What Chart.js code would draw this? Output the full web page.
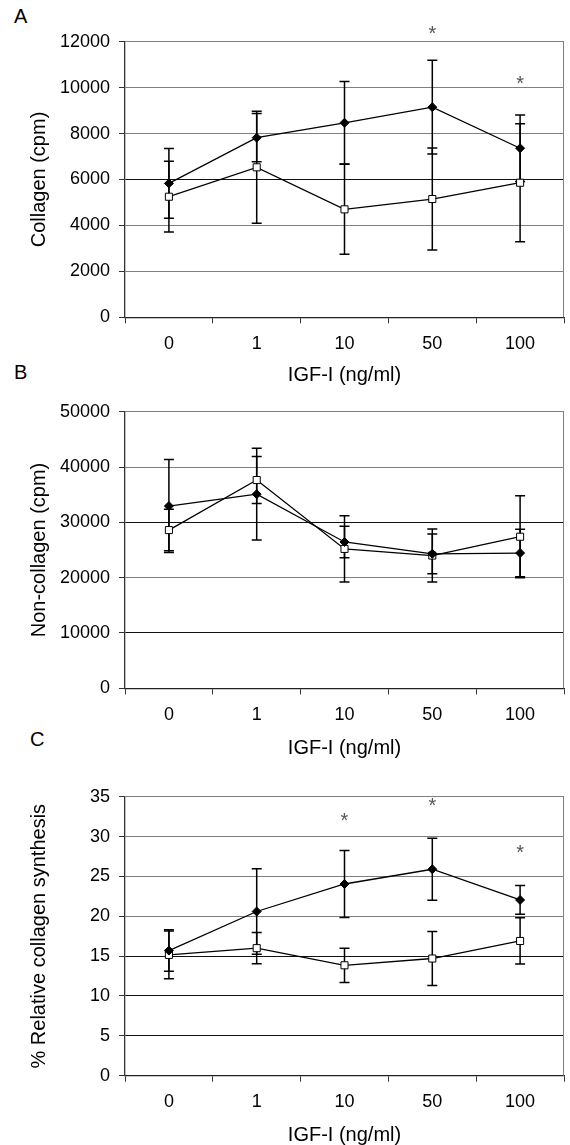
<!DOCTYPE html>
<html>
<head>
<meta charset="utf-8">
<script src="https://cdn.jsdelivr.net/npm/chart.js@4.4.1/dist/chart.umd.min.js"></script>
<style>
  body { margin: 0; background: #fff; width: 570px; height: 1145px; position: relative; overflow: hidden;
         font-family: "Liberation Sans", Arial, sans-serif; }
  canvas { position: absolute; left: 0; }
  .tag { position: absolute; font-size: 20px; line-height: 20px; color: #000; }
</style>
</head>
<body>
<div class="tag" style="left:14px; top:6px">A</div>
<div class="tag" style="left:14px; top:362px">B</div>
<div class="tag" style="left:30px; top:729px">C</div>
<canvas id="chartA" width="570" height="390" style="top:0"></canvas>
<canvas id="chartB" width="570" height="370" style="top:390px"></canvas>
<canvas id="chartC" width="570" height="390" style="top:760px"></canvas>
<script>
// IGF-I doses on the x axis
const doses = ['0', '1', '10', '50', '100'];

// A - collagen (cpm)
const collagenFilled = [5830, 7820, 8470, 9150, 7360];
const collagenFilledErr = [1520, 1050, 1800, 2040, 1450];
const collagenOpen = [5250, 6530, 4700, 5150, 5860];
const collagenOpenErr = [1540, 2440, 1960, 2220, 2570];
const collagenStars = [null, null, null, 12600, 10400];
const collagenTicks = [0, 2000, 4000, 6000, 8000, 10000, 12000];

// B - non-collagen (cpm)
const nonCollagenFilled = [32950, 35100, 26450, 24300, 24450];
const nonCollagenFilledErr = [8400, 8300, 2850, 3600, 4300];
const nonCollagenOpen = [28600, 37650, 25200, 24000, 27400];
const nonCollagenOpenErr = [3750, 4250, 6000, 4800, 7400];
const nonCollagenStars = [null, null, null, null, null];
const nonCollagenTicks = [0, 10000, 20000, 30000, 40000, 50000];

// C - % relative collagen synthesis
const relativeFilled = [15.7, 20.6, 24.05, 25.9, 22.05];
const relativeFilledErr = [2.6, 5.35, 4.2, 3.9, 1.8];
const relativeOpen = [15.15, 16.0, 13.85, 14.7, 16.9];
const relativeOpenErr = [3.0, 1.95, 2.15, 3.4, 2.9];
const relativeStars = [null, null, 32.7, 34.5, 28.7];
const relativeTicks = [0, 5, 10, 15, 20, 25, 30, 35];

const FONT = '"Liberation Sans", Arial, sans-serif';

// vertical error bars with caps, drawn under the lines
const errorBars = {
  id: 'errorBars',
  beforeDatasetsDraw(chart) {
    const ctx = chart.ctx;
    const y = chart.scales.y;
    ctx.save();
    ctx.strokeStyle = '#000';
    ctx.lineWidth = 1.5;
    chart.data.datasets.forEach((ds, i) => {
      chart.getDatasetMeta(i).data.forEach((pt, j) => {
        const hi = y.getPixelForValue(ds.data[j] + ds.errors[j]);
        const lo = y.getPixelForValue(ds.data[j] - ds.errors[j]);
        ctx.beginPath();
        ctx.moveTo(pt.x, hi); ctx.lineTo(pt.x, lo);
        ctx.moveTo(pt.x - 5, hi); ctx.lineTo(pt.x + 5, hi);
        ctx.moveTo(pt.x - 5, lo); ctx.lineTo(pt.x + 5, lo);
        ctx.stroke();
      });
    });
    ctx.restore();
  }
};

// right border of plot area and significance stars
const extras = {
  id: 'extras',
  afterDraw(chart, args, opts) {
    const ctx = chart.ctx;
    const a = chart.chartArea;
    ctx.save();
    ctx.strokeStyle = '#808080';
    ctx.lineWidth = 1;
    ctx.beginPath();
    ctx.moveTo(a.right - 0.5, a.top);
    ctx.lineTo(a.right - 0.5, a.bottom);
    ctx.stroke();
    ctx.fillStyle = '#555';
    ctx.font = '20px ' + FONT;
    ctx.textAlign = 'center';
    ctx.textBaseline = 'alphabetic';
    opts.stars.forEach((v, i) => {
      if (v == null) return;
      const x = chart.scales.x.getPixelForValue(i);
      const y = chart.scales.y.getPixelForValue(v);
      ctx.fillText('*', x, y + 11.6);
    });
    ctx.restore();
  }
};

function makePanel(id, yTitle, filled, filledErr, open, openErr, stars, ticks, darkLines, pad) {
  return new Chart(document.getElementById(id), {
    type: 'line',
    data: {
      labels: doses,
      datasets: [{
        data: filled,
        errors: filledErr,
        borderColor: '#000',
        borderWidth: 1.3,
        pointStyle: 'rectRot',
        pointRadius: 4.5,
        pointBackgroundColor: '#000',
        pointBorderColor: '#000',
        pointBorderWidth: 1
      }, {
        data: open,
        errors: openErr,
        borderColor: '#000',
        borderWidth: 1.3,
        pointStyle: 'rect',
        pointRadius: 5,
        pointBackgroundColor: '#fff',
        pointBorderColor: '#000',
        pointBorderWidth: 1
      }]
    },
    options: {
      responsive: false,
      animation: false,
      events: [],
      layout: { padding: { top: pad.top, right: 2, left: 0, bottom: 0 } },
      plugins: {
        legend: { display: false },
        tooltip: { enabled: false },
        extras: { stars: stars }
      },
      scales: {
        x: {
          offset: true,
          grid: { offset: true, drawOnChartArea: false, tickLength: 6, tickColor: '#333' },
          border: { color: '#222', width: 1.3 },
          ticks: { color: '#000', padding: 10, font: { family: FONT, size: 18 } },
          title: { display: true, text: 'IGF-I (ng/ml)', color: '#000',
                   font: { family: FONT, size: 20 }, padding: { top: 0, bottom: pad.title } },
          afterFit(s) { s.height = pad.xh; }
        },
        y: {
          min: ticks[0],
          max: ticks[ticks.length - 1],
          ticks: { stepSize: ticks[1] - ticks[0], color: '#000', padding: 9,
                   font: { family: FONT, size: 18 }, callback: v => String(v) },
          grid: {
            tickLength: 6,
            tickColor: '#333',
            color: c => darkLines.includes(c.tick.value) ? '#111' : '#808080'
          },
          border: { color: '#333', width: 1.3 },
          title: { display: true, text: yTitle, color: '#000',
                   font: { family: FONT, size: 20 }, padding: { top: 27, bottom: 0 } },
          afterFit(s) { s.width = 125; }
        }
      }
    },
    plugins: [errorBars, extras]
  });
}

makePanel('chartA', 'Collagen (cpm)', collagenFilled, collagenFilledErr, collagenOpen, collagenOpenErr,
  collagenStars, collagenTicks, [6000], { top: 41.7, xh: 72.7, title: 2.5 });
makePanel('chartB', 'Non-collagen (cpm)', nonCollagenFilled, nonCollagenFilledErr, nonCollagenOpen, nonCollagenOpenErr,
  nonCollagenStars, nonCollagenTicks, [30000, 10000], { top: 21.7, xh: 71.7, title: 0 });
makePanel('chartC', '% Relative collagen synthesis', relativeFilled, relativeFilledErr, relativeOpen, relativeOpenErr,
  relativeStars, relativeTicks, [15, 10, 5], { top: 36.7, xh: 74.3, title: 3 });
</script>
</body>
</html>
